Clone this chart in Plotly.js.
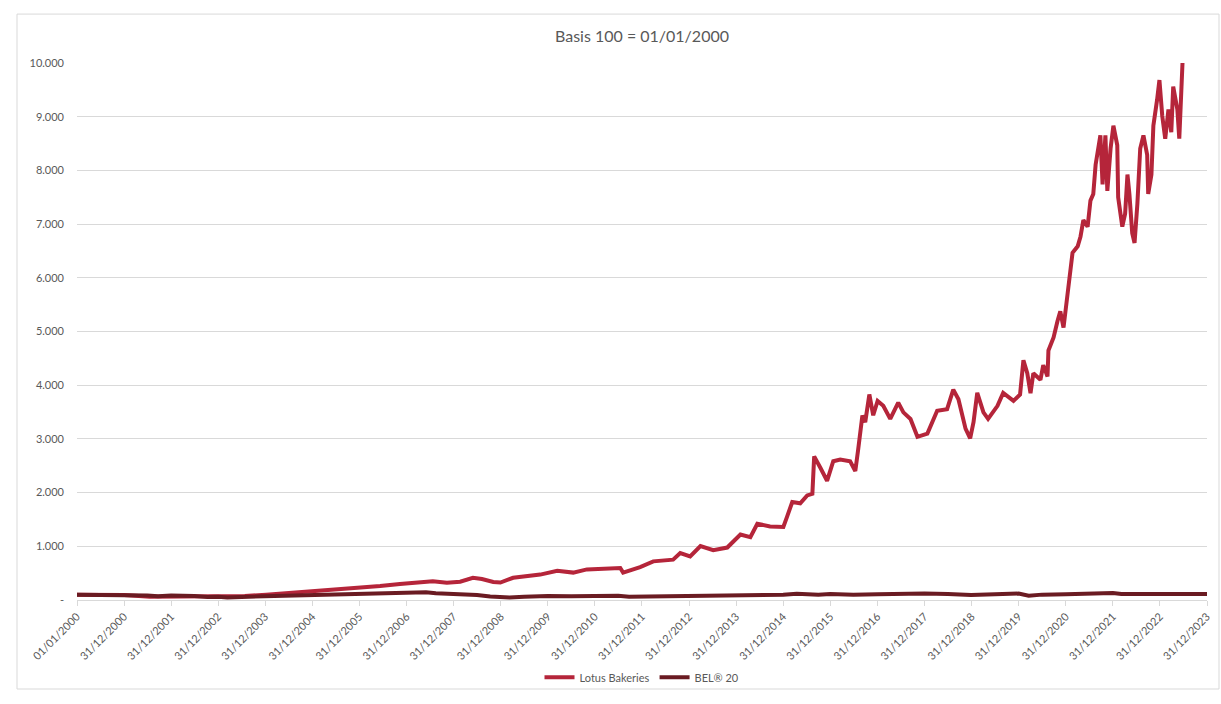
<!DOCTYPE html>
<html>
<head>
<meta charset="utf-8">
<script src="https://cdn.plot.ly/plotly-3.0.1.min.js"></script>
<style>html,body{margin:0;padding:0;background:#fff;}#chart{width:1221px;height:704px;}</style>
</head>
<body>
<div id="chart"></div>
<script>
const lotusDates = ["2000-01-01","2000-06-28","2001-01-01","2001-07-19","2002-01-08","2002-08-11","2003-01-07","2003-07-26","2004-01-07","2004-06-01","2004-09-27","2005-02-06","2005-08-03","2006-01-04","2006-06-09","2006-11-10","2007-04-15","2007-07-23","2007-11-09","2008-02-20","2008-05-29","2008-08-07","2008-11-03","2008-12-28","2009-04-06","2009-11-02","2010-03-14","2010-07-16","2010-10-30","2011-03-20","2011-07-16","2011-08-07","2011-12-17","2012-03-28","2012-08-29","2012-10-23","2013-01-08","2013-03-29","2013-07-06","2013-10-23","2014-02-02","2014-04-20","2014-06-13","2014-09-20","2015-01-01","2015-01-30","2015-03-11","2015-05-12","2015-07-05","2015-08-14","2015-08-28","2015-10-15","2015-12-06","2016-01-23","2016-03-17","2016-06-02","2016-07-12","2016-08-03","2016-09-05","2016-09-27","2016-10-29","2016-11-28","2017-01-01","2017-02-14","2017-04-09","2017-06-10","2017-07-20","2017-09-13","2017-11-06","2018-01-22","2018-04-08","2018-06-24","2018-08-11","2018-09-20","2018-11-14","2018-12-20","2019-01-15","2019-02-13","2019-04-02","2019-05-08","2019-07-20","2019-09-02","2019-11-21","2020-01-11","2020-02-06","2020-03-07","2020-04-01","2020-04-23","2020-06-17","2020-07-09","2020-08-11","2020-08-18","2020-09-27","2020-10-27","2020-11-18","2020-12-13","2021-01-12","2021-02-06","2021-02-21","2021-04-02","2021-04-24","2021-05-16","2021-06-18","2021-07-10","2021-08-01","2021-08-19","2021-09-10","2021-09-25","2021-10-12","2021-11-03","2021-11-18","2021-12-13","2022-01-04","2022-02-03","2022-02-10","2022-03-14","2022-04-05","2022-04-23","2022-05-08","2022-05-30","2022-06-17","2022-07-09","2022-07-31","2022-08-25","2022-09-23","2022-10-01","2022-10-26","2022-11-10","2022-12-09","2022-12-27","2023-01-18","2023-02-10","2023-03-07","2023-03-29","2023-04-13","2023-05-15","2023-05-30","2023-06-24"];
const lotusValues = [100,105,95,60,60,65,62,75,100,125,140,158,190,215,260,300,340,351,322,340,413,390,335,325,413,473,546,510,570,585,595,510,613,720,752,874,813,1006,928,977,1219,1170,1420,1370,1359,1552,1825,1800,1947,1978,2675,2462,2220,2584,2615,2584,2402,2800,3434,3312,3827,3440,3707,3616,3372,3676,3494,3372,3039,3100,3525,3555,3918,3737,3190,3008,3312,3858,3494,3372,3616,3858,3707,3827,4464,4222,3850,4222,4100,4373,4162,4646,4890,5192,5374,5072,5678,6102,6466,6588,6770,7074,6952,7438,7560,8105,8408,8651,7741,8651,7620,8408,8832,8468,7498,6952,7195,7923,7560,6831,6649,7377,8408,8651,8287,7560,7923,8832,9318,9682,9014,8590,9136,8712,9560,9136,8590,10000];

const belDates = ["2000-01-01","2000-06-30","2000-09-30","2000-12-31","2001-06-30","2001-09-21","2001-12-31","2002-06-30","2002-10-09","2002-12-31","2003-03-12","2003-06-30","2003-12-31","2004-06-30","2004-12-31","2005-06-30","2005-12-31","2006-06-13","2006-12-31","2007-05-31","2007-08-15","2007-12-31","2008-06-30","2008-10-10","2008-12-31","2009-03-09","2009-06-30","2009-12-31","2010-06-30","2010-12-31","2011-06-30","2011-09-22","2011-12-31","2012-06-30","2012-12-31","2013-06-30","2013-12-31","2014-06-30","2014-12-31","2015-04-15","2015-09-29","2015-12-31","2016-06-27","2016-12-31","2017-05-31","2017-12-31","2018-06-30","2018-12-27","2019-06-30","2019-12-31","2020-03-18","2020-06-30","2020-12-31","2021-06-30","2021-12-31","2022-03-07","2022-06-30","2022-09-29","2022-12-31","2023-06-30","2023-12-31"];
const belValues = [100,95,100,90,85,70,83,75,55,61,48,58,67,75,88,96,106,115,131,142,125,120,95,65,57,46,60,75,70,77,80,60,62,65,74,80,87,95,98,115,100,111,100,108,120,119,112,95,105,120,80,100,108,122,129,110,108,100,111,112,111];

const xTickDates = ["2000-01-01","2000-12-31","2001-12-31","2002-12-31","2003-12-31","2004-12-31","2005-12-31","2006-12-31","2007-12-31","2008-12-31","2009-12-31","2010-12-31","2011-12-31","2012-12-31","2013-12-31","2014-12-31","2015-12-31","2016-12-31","2017-12-31","2018-12-31","2019-12-31","2020-12-31","2021-12-31","2022-12-31","2023-12-31"];
const xTickLabels = ["01/01/2000","31/12/2000","31/12/2001","31/12/2002","31/12/2003","31/12/2004","31/12/2005","31/12/2006","31/12/2007","31/12/2008","31/12/2009","31/12/2010","31/12/2011","31/12/2012","31/12/2013","31/12/2014","31/12/2015","31/12/2016","31/12/2017","31/12/2018","31/12/2019","31/12/2020","31/12/2021","31/12/2022","31/12/2023"];
const yTickVals = [0,1000,2000,3000,4000,5000,6000,7000,8000,9000,10000];
const yTickLabels = ["-","1.000","2.000","3.000","4.000","5.000","6.000","7.000","8.000","9.000","10.000"];

const FONT = "Lato, 'Open Sans', sans-serif";
const GREY = "#595959";

const traces = [
  {x: lotusDates, y: lotusValues, type: "scatter", mode: "lines", name: "Lotus Bakeries",
   line: {color: "#B5253A", width: 4}},
  {x: belDates, y: belValues, type: "scatter", mode: "lines", name: "BEL® 20",
   line: {color: "#6A1B22", width: 4}}
];

const L = 77, R = 1207, T = 63, B = 612;
const W = R - L, H = B - T;
const px = v => (v - L) / W;
const py = v => (B - v) / H;

const layout = {
  width: 1221, height: 704,
  margin: {l: L, r: 1221 - R, t: T, b: 704 - B},
  paper_bgcolor: "#fff", plot_bgcolor: "#fff",
  font: {family: FONT, color: GREY, size: 11},
  title: {text: "Basis 100 = 01/01/2000", font: {family: FONT, size: 16, color: GREY},
          x: 0.5, xanchor: "center", y: 1 - 36/704, yanchor: "middle", xref: "paper"},
  showlegend: true,
  legend: {orientation: "h", x: 0.5, xanchor: "center", y: py(691), yanchor: "middle",
           font: {family: FONT, size: 11, color: GREY}, itemwidth: 30, bgcolor: "rgba(0,0,0,0)"},
  xaxis: {
    type: "date", range: ["2000-01-01", "2023-12-31"],
    tickmode: "array", tickvals: xTickDates, ticktext: xTickLabels,
    tickangle: -45, tickfont: {family: FONT, size: 11, color: GREY},
    showgrid: false, zeroline: false,
    showline: true, linecolor: "#d9d9d9", linewidth: 1,
    ticks: "outside", ticklen: 5, tickcolor: "#d9d9d9", tickwidth: 1
  },
  yaxis: {
    range: [0, 10000], tickmode: "array", tickvals: yTickVals, ticktext: yTickLabels,
    tickfont: {family: FONT, size: 11, color: GREY},
    showgrid: true, gridcolor: "#d9d9d9", gridwidth: 1, zeroline: false,
    showline: false, ticks: "", ticklabelstandoff: 12
  },
  shapes: [
    {type: "rect", xref: "paper", yref: "paper", x0: px(17), x1: px(1219), y0: py(703), y1: py(13),
     line: {color: "#d9d9d9", width: 1}, fillcolor: "rgba(0,0,0,0)", layer: "below"}
  ]
};

Plotly.newPlot("chart", traces, layout, {displayModeBar: false, staticPlot: true});
</script>
</body>
</html>
